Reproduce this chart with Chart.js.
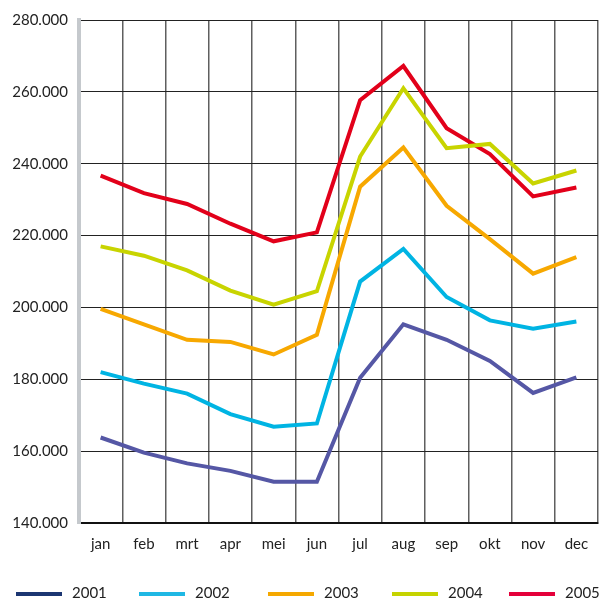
<!DOCTYPE html>
<html>
<head>
<meta charset="utf-8">
<script src="https://cdn.jsdelivr.net/npm/chart.js@4/dist/chart.umd.min.js"></script>
<style>
  html, body { margin: 0; padding: 0; background: #fff; overflow: hidden; }
  canvas { display: block; }
</style>
</head>
<body>
<canvas id="lineChart" width="608" height="599"></canvas>
<script>
// months and yearly series
const months = ['jan', 'feb', 'mrt', 'apr', 'mei', 'jun', 'jul', 'aug', 'sep', 'okt', 'nov', 'dec'];
const years = ['2001', '2002', '2003', '2004', '2005'];

const values2001 = [163800, 159600, 156600, 154500, 151500, 151500, 180400, 195300, 191000, 185100, 176200, 180500];
const values2002 = [182000, 178800, 176000, 170300, 166800, 167700, 207200, 216300, 202900, 196400, 194100, 196100];
const values2003 = [199600, 195300, 191000, 190400, 186900, 192400, 233600, 244500, 228300, 219000, 209400, 214000];
const values2004 = [217000, 214400, 210300, 204700, 200800, 204500, 242000, 261000, 244300, 245500, 234500, 238100];
const values2005 = [236700, 231800, 228800, 223300, 218400, 220900, 257700, 267200, 249900, 242700, 230900, 233400];

const yTicks = [140000, 160000, 180000, 200000, 220000, 240000, 260000, 280000];

const lineColors = ['#5557a5', '#00b4e3', '#f7a800', '#c8d400', '#e2001a'];
const legendColors = ['#1c3672', '#1fb8e4', '#f5a800', '#c5d300', '#e4003a'];

const seriesValues = [values2001, values2002, values2003, values2004, values2005];

const fontFamily = 'Lato, "Noto Sans", sans-serif';

// legend row along the bottom edge: a short bar followed by the year
const legendX = [16, 139, 268, 392, 509];
const bottomLegend = {
  id: 'bottomLegend',
  afterDraw(chart) {
    const c = chart.ctx;
    const barW = 46, barY = 594;
    c.save();
    c.font = '15px ' + fontFamily;
    c.textBaseline = 'alphabetic';
    chart.data.datasets.forEach((ds, i) => {
      const x = legendX[i];
      c.fillStyle = legendColors[i];
      c.fillRect(x, barY - 2, barW, 4);
      c.fillStyle = '#222';
      c.fillText(ds.label, x + barW + 10, 598);
    });
    c.restore();
  }
};

document.addEventListener("DOMContentLoaded", function () {
  const ctx = document.getElementById("lineChart");

  new Chart(ctx, {
    type: 'line',
    data: {
      labels: months,
      datasets: years.map((year, i) => ({
        label: year,
        data: seriesValues[i],
        borderColor: lineColors[i],
        backgroundColor: lineColors[i],
        borderWidth: 4,
        pointRadius: 0,
        tension: 0,
        fill: false
      }))
    },
    options: {
      responsive: false,
      animation: false,
      layout: {
        padding: { top: 19, right: 10, left: 0, bottom: 46 }
      },
      plugins: {
        tooltip: { enabled: false },
        legend: { display: false }
      },
      scales: {
        x: {
          offset: true,
          grid: {
            offset: true,
            color: '#5f5f5f',
            lineWidth: 1.5,
            drawTicks: false
          },
          border: { color: '#111', width: 2 },
          ticks: {
            color: '#222',
            font: { family: fontFamily, size: 15 },
            padding: 12,
            maxRotation: 0,
            autoSkip: false
          },
          afterFit: function (axis) { axis.height = 30; }
        },
        y: {
          min: yTicks[0],
          max: yTicks[yTicks.length - 1],
          afterBuildTicks: function (axis) {
            axis.ticks = yTicks.map(v => ({ value: v }));
          },
          grid: {
            color: '#222',
            lineWidth: 1,
            drawTicks: false
          },
          border: { color: '#c5c9cd', width: 4 },
          ticks: {
            color: '#222',
            font: { family: fontFamily, size: 15 },
            padding: 11,
            callback: function (value) {
              return (value / 1000) + '.000';
            }
          },
          afterFit: function (axis) { axis.width = 79; }
        }
      }
    },
    plugins: [bottomLegend]
  });
});
</script>
</body>
</html>
